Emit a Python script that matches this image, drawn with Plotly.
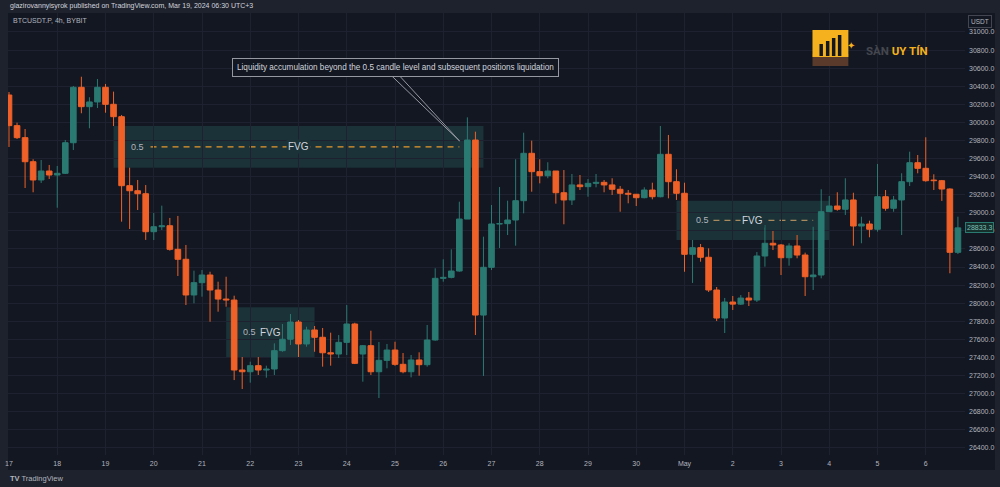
import plotly.graph_objects as go
import pandas as pd

# ---------------- data ----------------
times = pd.date_range("2023-04-17 00:00", periods=119, freq="4h")

opens = [30303, 29964, 29831, 29565, 29363, 29462, 29418, 29437, 29775, 30388,
         30174, 30226, 30388, 30200, 30063, 29300, 29244, 29211, 28791, 28846,
         28857, 28596, 28486, 28091, 28227, 28312, 28146, 28046, 28035, 27261,
         27242, 27309, 27261, 27272, 27475, 27601, 27792, 27549, 27704, 27623,
         27452, 27438, 27567, 27770, 27438, 27530, 27242, 27368, 27482, 27324,
         27242, 27372, 27320, 27593, 28275, 28286, 28356, 28931, 29805, 27869,
         28397, 28876, 28880, 28920, 29134, 29658, 29455, 29410, 29462, 29222,
         29142, 29308, 29289, 29326, 29337, 29308, 29260, 29216, 29205, 29167,
         29252, 29178, 29647, 29344, 29216, 28541, 28614, 28508, 28146, 27836,
         28013, 27990, 28057, 28035, 28522, 28663, 28644, 28503, 28633, 28533,
         28293, 28312, 29012, 29075, 29039, 29142, 28854, 28876, 28818, 29178,
         29050, 29142, 29344, 29554, 29492, 29362, 29355, 29263, 28563]
highs = [30336, 29997, 29927, 29592, 29584, 29529, 29518, 29805, 30403, 30505,
         30278, 30480, 30425, 30340, 30082, 29499, 29363, 29307, 28998, 29079,
         28943, 28965, 28644, 28360, 28367, 28348, 28238, 28293, 28083, 27405,
         27353, 27405, 27309, 27556, 27770, 27881, 27814, 27740, 27748, 27726,
         27674, 27648, 27980, 27784, 27538, 27696, 27571, 27549, 27574, 27449,
         27427, 27457, 27759, 28386, 28486, 28596, 29123, 30056, 29897, 28736,
         29086, 29285, 29134, 29592, 29886, 29798, 29592, 29559, 29462, 29473,
         29429, 29418, 29374, 29429, 29363, 29382, 29296, 29252, 29208, 29282,
         29333, 29960, 29861, 29481, 29333, 28699, 28655, 28607, 28179, 28058,
         28080, 28090, 28124, 28566, 28865, 28799, 28655, 28663, 28754, 28559,
         28846, 29260, 29186, 29227, 29382, 29222, 28957, 28913, 29540, 29252,
         29186, 29437, 29676, 29639, 29835, 29426, 29363, 29271, 28957]
lows = [29728, 29816, 29274, 29227, 29330, 29374, 29056, 29429, 29695, 30101,
        29935, 30159, 30107, 29960, 28902, 28821, 29031, 28700, 28699, 28810,
        28581, 28301, 27980, 27999, 28072, 27795, 27906, 27961, 27150, 27051,
        27121, 27206, 27176, 27206, 27463, 27538, 27405, 27519, 27463, 27298,
        27309, 27394, 27427, 27327, 27132, 27206, 26951, 27280, 27308, 27225,
        27180, 27198, 27298, 27585, 28238, 28275, 28348, 28931, 27648, 27195,
        28367, 28611, 28754, 28636, 28994, 29233, 29326, 29382, 29101, 28873,
        29086, 29252, 29178, 29282, 29227, 29197, 29012, 29105, 29075, 29160,
        29149, 29171, 29160, 29142, 28348, 28224, 28459, 28124, 27803, 27670,
        27925, 27980, 27969, 28013, 28404, 28588, 28312, 28415, 28497, 28080,
        28146, 28275, 29012, 29023, 28976, 28636, 28663, 28729, 28791, 29023,
        29012, 28754, 29296, 29437, 29344, 29252, 29131, 28331, 28544]
closes = [29964, 29831, 29565, 29363, 29462, 29418, 29437, 29775, 30388, 30174,
          30226, 30388, 30200, 30063, 29300, 29244, 29211, 28791, 28846, 28857,
          28596, 28486, 28091, 28227, 28312, 28146, 28046, 28035, 27261, 27242,
          27309, 27261, 27272, 27475, 27601, 27792, 27549, 27704, 27623, 27452,
          27438, 27567, 27770, 27335, 27530, 27242, 27368, 27482, 27324, 27242,
          27372, 27320, 27593, 28275, 28286, 28356, 28931, 29805, 27869, 28397,
          28876, 28880, 28920, 29134, 29658, 29455, 29410, 29462, 29222, 29142,
          29308, 29289, 29326, 29337, 29308, 29260, 29216, 29205, 29167, 29252,
          29178, 29647, 29344, 29216, 28541, 28614, 28508, 28146, 27836, 28013,
          27990, 28057, 28035, 28522, 28663, 28644, 28503, 28633, 28533, 28293,
          28312, 29012, 29075, 29039, 29142, 28854, 28876, 28818, 29178, 29050,
          29142, 29344, 29554, 29492, 29355, 29355, 29263, 28563, 28833.3]

day_ticks = pd.date_range("2023-04-17", "2023-05-06", freq="D")
day_labels = ["17", "18", "19", "20", "21", "22", "23", "24", "25", "26", "27",
              "28", "29", "30", "May", "2", "3", "4", "5", "6"]
price_ticks = list(range(26400, 31001, 200))

# Fair value gaps: candle index range and price bounds
fvg_start = [13, 27, 83]
fvg_end = [59, 38, 102]
fvg_top = [29960, 27955, 29134]
fvg_bottom = [29499, 27402, 28699]
ref_level = 29600

# ---------------- style / helpers ----------------
BG = "#131722"
OUTER = "#1e222d"
GRID = "#1e2230"
TEAL = "#2a7a72"
ORANGE = "#ef6128"
BOX = "#1a3238"
TXT = "#b2b5be"
W, H = 1000, 487
ML, MR, MT, MB = 5, 35, 13, 32
PW, PH = W - ML - MR, H - MT - MB
BAR_MS = 4 * 3600 * 1000 * 0.70


def t(idx):
    return times[0] + pd.Timedelta(hours=4 * idx)


def px(x):
    return (x - ML) / PW


def py(y):
    return (H - MB - y) / PH


fig = go.Figure()
for up, color in ((True, TEAL), (False, ORANGE)):
    sel = [i for i in range(len(times)) if (closes[i] >= opens[i]) == up]
    # wicks
    wx, wy = [], []
    for i in sel:
        wx += [times[i], times[i], None]
        wy += [lows[i], highs[i], None]
    fig.add_trace(go.Scatter(x=wx, y=wy, mode="lines", line=dict(color=color, width=1),
                             hoverinfo="skip", showlegend=False))
    # bodies
    fig.add_trace(go.Bar(x=[times[i] for i in sel],
                         base=[min(opens[i], closes[i]) for i in sel],
                         y=[abs(closes[i] - opens[i]) for i in sel],
                         width=BAR_MS, marker=dict(color=color, line=dict(color=color, width=1)),
                         hoverinfo="skip", showlegend=False))

shapes = []
# chart pane background incl. axes areas
shapes.append(dict(type="rect", xref="paper", yref="paper", x0=0, x1=px(995),
                   y0=py(470), y1=1, fillcolor=BG, line=dict(width=0), layer="below"))
# dotted reference line
shapes.append(dict(type="line", xref="paper", yref="y", x0=0, x1=1, y0=ref_level, y1=ref_level,
                   line=dict(color="#363b48", width=1, dash="dot"), layer="below"))
for s, e, tp, bt in zip(fvg_start, fvg_end, fvg_top, fvg_bottom):
    shapes.append(dict(type="rect", xref="x", yref="y", x0=t(s), x1=t(e), y0=bt, y1=tp,
                       fillcolor=BOX, line=dict(width=0), layer="below"))

mid0 = (fvg_top[0] + fvg_bottom[0]) / 2
mid1 = (fvg_top[1] + fvg_bottom[1]) / 2
mid2 = (fvg_top[2] + fvg_bottom[2]) / 2
shapes.append(dict(type="line", xref="x", yref="y", x0=t(17.6), x1=t(56.0), y0=mid0, y1=mid0,
                   line=dict(color="#e89a2c", width=1.2, dash="6px,5px"), layer="below"))
shapes.append(dict(type="line", xref="x", yref="y", x0=t(87.6), x1=t(100.0), y0=mid2, y1=mid2,
                   line=dict(color="#a98a5e", width=1.2, dash="6px,5px"), layer="below"))

# callout pointer
shapes.append(dict(type="path", xref="paper", yref="paper",
                   path=f"M {px(389)},{py(75)} L {px(458)},{py(141)} L {px(397)},{py(75)} Z",
                   fillcolor=BG, line=dict(color="#9598a1", width=1)))

# logo
shapes.append(dict(type="rect", xref="paper", yref="paper", x0=px(812), x1=px(848), y0=py(66), y1=py(54),
                   fillcolor="#5a3a2a", line=dict(width=0)))
shapes.append(dict(type="rect", xref="paper", yref="paper", x0=px(812), x1=px(848), y0=py(57), y1=py(30),
                   fillcolor="#f5b21e", line=dict(width=0)))
for bx, btop in zip([819, 825.5, 831.5, 837.5], [44, 41, 38, 35]):
    shapes.append(dict(type="rect", xref="paper", yref="paper", x0=px(bx), x1=px(bx + 3.5),
                       y0=py(56), y1=py(btop), fillcolor=BG, line=dict(width=0)))

ann = []
F = "Liberation Sans, Arial, sans-serif"
ann.append(dict(xref="paper", yref="paper", x=px(5), y=py(6), xanchor="left", yanchor="middle",
                text="glazirovannyisyrok published on TradingView.com, Mar 19, 2024 06:30 UTC+3",
                showarrow=False, font=dict(family=F, size=7, color="#d1d4dc")))
ann.append(dict(xref="paper", yref="paper", x=px(8), y=py(20), xanchor="left", yanchor="middle",
                text="BTCUSDT.P, 4h, BYBIT", showarrow=False, font=dict(family=F, size=7, color=TXT)))
ann.append(dict(xref="paper", yref="paper", x=px(5), y=py(478), xanchor="left", yanchor="middle",
                text="<b>TV</b> TradingView", showarrow=False, font=dict(family=F, size=7.5, color=TXT)))
ann.append(dict(xref="paper", yref="paper", x=px(980.5), y=py(21), xanchor="center", yanchor="middle",
                text="USDT", showarrow=False, font=dict(family=F, size=6.5, color=TXT),
                bgcolor=BG, bordercolor="#434651", borderwidth=1, borderpad=2))
ann.append(dict(xref="paper", yref="y", x=px(980), y=closes[-1], xanchor="center", yanchor="middle",
                text=f"{closes[-1]:.1f}", showarrow=False, font=dict(family=F, size=7, color="#7fc0b8"),
                bgcolor="#16302e", bordercolor=TEAL, borderwidth=1, borderpad=1))
ann.append(dict(xref="paper", yref="paper", x=px(394), y=py(67), xanchor="center", yanchor="middle",
                text="Liquidity accumulation beyond the 0.5 candle level and subsequent positions liquidation",
                showarrow=False, font=dict(family=F, size=8.2, color="#d1d4dc"),
                bgcolor=BG, bordercolor="#9598a1", borderwidth=1, borderpad=4))
# FVG labels
ann.append(dict(x=t(15.95), y=mid0, text="0.5", showarrow=False, font=dict(family=F, size=9, color=TXT)))
ann.append(dict(x=t(36.0), y=mid0, text="FVG", showarrow=False, bgcolor=BOX,
                font=dict(family=F, size=10, color="#d1d4dc")))
ann.append(dict(x=t(29.9), y=mid1, text="0.5", showarrow=False, font=dict(family=F, size=9, color=TXT)))
ann.append(dict(x=t(32.5), y=mid1, text="FVG", showarrow=False, font=dict(family=F, size=10, color="#d1d4dc")))
ann.append(dict(x=t(86.2), y=mid2, text="0.5", showarrow=False, bgcolor=BOX,
                font=dict(family=F, size=9, color=TXT)))
ann.append(dict(x=t(92.5), y=mid2, text="FVG", showarrow=False, bgcolor=BOX,
                font=dict(family=F, size=10, color="#d1d4dc")))
# logo text
ann.append(dict(xref="paper", yref="paper", x=px(857), y=py(36), text="✦", showarrow=False,
                font=dict(size=10, color="#f5b21e")))
ann.append(dict(xref="paper", yref="paper", x=px(897), y=py(51), xanchor="center", yanchor="middle",
                text="<b><span style='color:#45474f'>SÀN</span> <span style='color:#f3b21c'>UY TÍN</span></b>",
                showarrow=False, font=dict(family="Roboto, sans-serif", size=11.5)))

fig.update_layout(
    width=W, height=H, margin=dict(l=ML, r=MR, t=MT, b=MB),
    paper_bgcolor=OUTER, plot_bgcolor=BG, barmode="overlay",
    shapes=shapes, annotations=ann, showlegend=False,
    xaxis=dict(type="date", range=[t(-0.124), t(118.88)], tickvals=day_ticks, ticktext=day_labels,
               showgrid=True, gridcolor=GRID, gridwidth=1, zeroline=False, showline=False,
               ticks="", ticklabelstandoff=3,
               tickfont=dict(family=F, size=7, color=TXT), fixedrange=True),
    yaxis=dict(side="right", range=[26321, 31210], tickvals=price_ticks,
               ticktext=[f"{v:.1f}" for v in price_ticks],
               showgrid=True, gridcolor=GRID, gridwidth=1, zeroline=False, showline=False,
               ticks="", ticklabelstandoff=3,
               tickfont=dict(family=F, size=7, color=TXT), fixedrange=True),
)

fig.write_html("out.html")
